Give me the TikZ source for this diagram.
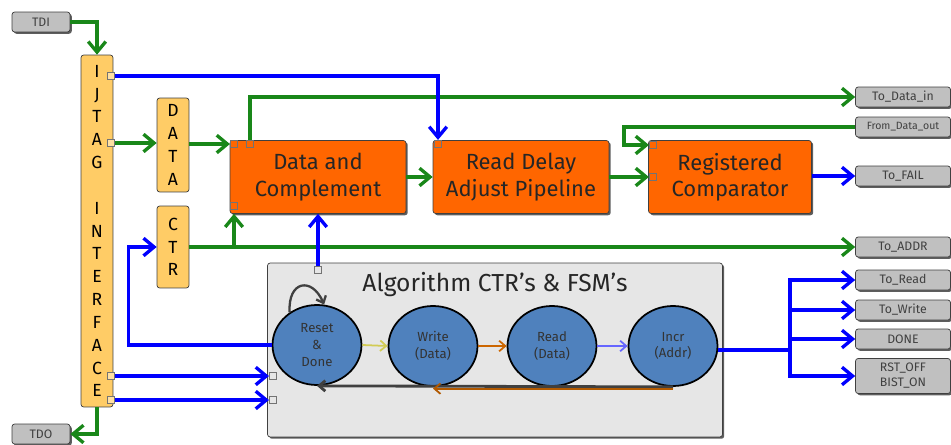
\documentclass[tikz,border=0pt]{standalone}
\usepackage{fontspec}
\setmainfont{Fira Sans}
\usetikzlibrary{arrows.meta,shapes.geometric,shadows}
\definecolor{sgreen}{RGB}{25,135,25}
\definecolor{sblue}{RGB}{0,0,255}
\definecolor{borange}{RGB}{255,102,0}
\definecolor{byellow}{RGB}{255,204,102}
\definecolor{iogray}{RGB}{192,192,192}
\definecolor{algogray}{RGB}{230,230,230}
\definecolor{stateblue}{RGB}{79,129,189}
\begin{document}
\begin{tikzpicture}[
        x=0.02cm, y=0.02cm,
        base/.style={draw=black!75, rounded corners=1.5pt, align=center, inner sep=0pt},
        shade/.style={drop shadow={shadow xshift=1pt, shadow yshift=-1pt, fill=black!70, opacity=0.9}},
        iobox/.style={base, shade, fill=iogray, text=black!75, minimum width=1.9cm, minimum height=0.4cm, font=\fontsize{7}{8.5}\selectfont},
        funcblk/.style={base, shade, fill=borange, text=black!85, minimum width=3.52cm, minimum height=1.46cm, font=\fontsize{12.5}{15}\selectfont},
        jtagbar/.style={base, fill=byellow, minimum width=0.64cm, font=\fontsize{10}{13}\selectfont},
        fsmbox/.style={base, shade, fill=algogray, minimum width=9.1cm, minimum height=3.48cm},
        state/.style={ellipse, draw=black, line width=1pt, fill=stateblue, text=black!80, minimum width=1.78cm, minimum height=1.6cm, align=center, font=\fontsize{7.5}{9.5}\selectfont},
        port/.style={draw=black!55, fill=#1, minimum size=0.15cm, inner sep=0pt},
        port/.default=white,
        flow/.style={line width=1.9pt, -{Straight Barb[length=6pt,width=10pt]}},
        gflow/.style={flow, draw=sgreen},
        bflow/.style={flow, draw=sblue},
        fsmarrow/.style={line width=1pt, -{Straight Barb[length=3.5pt,width=6pt]}}
    ]
        \useasboundingbox (0,0) rectangle (951,444);

        % boundary pins
        \node[iobox, minimum width=1.16cm] (tdi) at (41,422) {TDI};
        \node[iobox, minimum width=1.16cm] (tdo) at (41,10) {TDO};
        \node[iobox] (todatain) at (903,347) {To\_Data\_in};
        \node[iobox, font=\fontsize{6}{7}\selectfont] (fromdataout) at (903,317) {From\_Data\_out};
        \node[iobox] (tofail) at (903,268) {To\_FAIL};
        \node[iobox] (toaddr) at (903,197) {To\_ADDR};
        \node[iobox] (toread) at (903,164) {To\_Read};
        \node[iobox] (towrite) at (903,134) {To\_Write};
        \node[iobox] (done) at (903,105) {DONE};
        \node[iobox, minimum height=0.7cm] (rst) at (903,68) {RST\_OFF\\BIST\_ON};

        % interface and registers
        \node[jtagbar, minimum height=7.04cm] (ijtag) at (97,213) {I\\J\\T\\A\\G\\~\\I\\N\\T\\E\\R\\F\\A\\C\\E};
        \node[jtagbar, minimum height=1.88cm] (data) at (173,299) {D\\A\\T\\A};
        \node[jtagbar, minimum height=1.64cm] (ctr) at (173,197) {C\\T\\R};

        % datapath
        \node[funcblk] (dc) at (318,267) {Data and\\Complement};
        \node[funcblk] (rdap) at (521,267) {Read Delay\\Adjust Pipeline};
        \node[funcblk, minimum width=3.26cm] (rc) at (730,267) {Registered\\Comparator};

        % algorithm block
        \node[fsmbox] (algo) at (495,94) {};
        \node[font=\fontsize{14}{16}\selectfont, text=black!85] (title) at (495,159) {Algorithm CTR’s \& FSM’s};
        \node[state] (reset) at (317,99) {Reset\\\&\\Done};
        \node[state] (write) at (433,98) {Write\\(Data)};
        \node[state] (read) at (552,98) {Read\\(Data)};
        \node[state] (incr) at (673,98) {Incr\\(Addr)};

        % ports
        \node[port=byellow!60] (jp1) at (111,368) {};
        \node[port=byellow!60] (jp2) at (111,301) {};
        \node[port=byellow!60] (jp3) at (111,68) {};
        \node[port=byellow!60] (jp4) at (111,44) {};
        \node[port=borange] (dcp1) at (234,300) {};
        \node[port=borange] (dcp2) at (250,300) {};
        \node[port=borange] (dcp3) at (234,238) {};
        \node[port=borange] (rp1) at (438,300) {};
        \node[port=borange] (rcp1) at (653,299) {};
        \node[port=borange] (rcp2) at (653,267) {};
        \node[port=algogray] (ap1) at (318,174) {};
        \node[port=algogray] (ap2) at (273,68) {};
        \node[port=algogray] (ap3) at (273,44) {};

        % state transitions
        \draw[fsmarrow, draw=yellow!75!black!80] (reset.east) -- (write.west);
        \draw[fsmarrow, draw=orange!80!black] (write.east) -- (read.west);
        \draw[fsmarrow, draw=blue!60] (read.east) -- (incr.west);
        \draw[fsmarrow, line width=1.6pt, draw=black!75] (incr.south) -- (reset.south);
        \draw[fsmarrow, draw=orange!70!black] ([yshift=-1pt]incr.south) -- ([yshift=-1pt]write.south);
        \draw[fsmarrow, line width=1.3pt, draw=black!75] (reset.130) .. controls +(-2,32) and +(-12,28) .. (reset.80);

        % green nets
        \draw[gflow] (tdi.east) -| (ijtag.north);
        \draw[gflow] (ijtag.south) |- (tdo.east);
        \draw[gflow] (jp2.east) -- (jp2.east -| data.west);
        \draw[gflow] (data.east |- dcp1) -- (dcp1.west);
        \draw[gflow] (dcp2.north) |- (todatain.west);
        \draw[gflow] (dc.east) -- (rdap.west);
        \draw[gflow] (rdap.east) -- (rcp2.west);
        \draw[gflow] (fromdataout.west) -| ([xshift=-0.5cm]rcp1.west) -- (rcp1.west);
        \draw[gflow] (ctr.east) -- (toaddr.west);
        \draw[gflow] (dcp3 |- ctr.east) -- (dcp3 |- dc.south);

        % blue nets
        \coordinate (bus) at (790,94);
        \draw[bflow] (jp1.east) -| (rp1.north);
        \draw[bflow] (ap1.north) -- (ap1 |- dc.south);
        \draw[bflow] (reset.west) -- ++(-143,0) |- (ctr.west);
        \draw[bflow] (jp3.east) -- (ap2.west);
        \draw[bflow] (jp4.east) -- (ap3.west);
        \draw[bflow] (rc.east |- tofail) -- (tofail.west);
        \draw[bflow, -] (incr.east |- bus) -- (bus);
        \foreach \pin in {toread,towrite,done,rst}
            \draw[bflow] (bus) |- (\pin.west);
\end{tikzpicture}
\end{document}
